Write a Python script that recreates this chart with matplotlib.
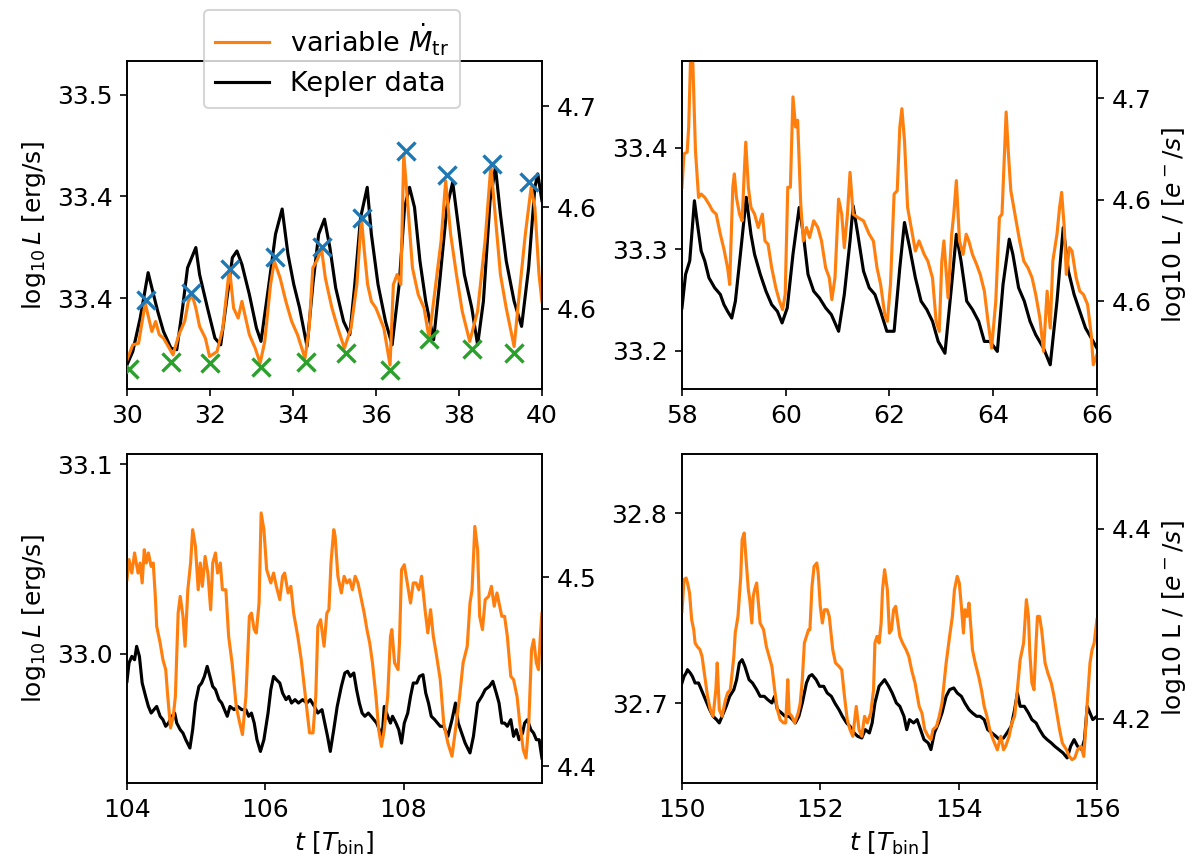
import numpy as np
import matplotlib
matplotlib.use('Agg')
from matplotlib import pyplot as plt
from matplotlib.ticker import FormatStrFormatter

plt.rcParams['font.size'] = 12

ORANGE = '#ff7f0e'

# model light curve (variable Mdot_tr), columns: t [T_bin], log10 L [erg/s]
tl_model = np.array([
    (30.00, 33.3196), (30.14, 33.3270), (30.28, 33.3278), (30.44, 33.3476), (30.60, 33.3336),
    (30.69, 33.3385), (30.78, 33.3320), (30.88, 33.3303), (31.02, 33.3254), (31.11, 33.3221),
    (31.25, 33.3320), (31.39, 33.3385), (31.48, 33.3484), (31.57, 33.3517), (31.66, 33.3451),
    (31.75, 33.3361), (31.89, 33.3303), (31.99, 33.3213), (32.17, 33.3237), (32.31, 33.3353),
    (32.47, 33.3649), (32.57, 33.3451), (32.68, 33.3402), (32.77, 33.3484), (32.86, 33.3402),
    (32.95, 33.3320), (33.09, 33.3254), (33.21, 33.3180), (33.32, 33.3287), (33.46, 33.3567),
    (33.55, 33.3682), (33.69, 33.3600), (33.83, 33.3484), (33.97, 33.3385), (34.11, 33.3320),
    (34.29, 33.3204), (34.39, 33.3353), (34.48, 33.3649), (34.57, 33.3682), (34.69, 33.3740),
    (34.78, 33.3600), (34.85, 33.3534), (34.94, 33.3451), (35.08, 33.3353), (35.24, 33.3254),
    (35.40, 33.3353), (35.54, 33.3567), (35.65, 33.3896), (35.72, 33.3731), (35.80, 33.3567),
    (35.89, 33.3484), (36.00, 33.3451), (36.19, 33.3353), (36.34, 33.3171), (36.42, 33.3567),
    (36.51, 33.3616), (36.60, 33.3567), (36.67, 33.4209), (36.76, 33.3979), (36.88, 33.3649),
    (37.02, 33.3517), (37.16, 33.3451), (37.28, 33.3303), (37.39, 33.3484), (37.57, 33.3781),
    (37.68, 33.4077), (37.80, 33.3814), (37.94, 33.3616), (38.08, 33.3435), (38.26, 33.3287),
    (38.45, 33.3435), (38.63, 33.3781), (38.77, 33.4152), (38.88, 33.3896), (39.00, 33.3616),
    (39.14, 33.3451), (39.33, 33.3262), (39.46, 33.3534), (39.60, 33.3814), (39.74, 33.4044),
    (39.83, 33.3946), (39.93, 33.3616), (40.00, 33.3484)])

# Kepler light curve, columns: t [T_bin], log10 L [e-/s]
tl_kepler = np.array([
    (30.00, 4.5473), (30.14, 4.5539), (30.32, 4.5705), (30.51, 4.5928), (30.60, 4.5853),
    (30.74, 4.5738), (30.88, 4.5638), (31.06, 4.5556), (31.20, 4.5548), (31.34, 4.5754),
    (31.46, 4.5952), (31.66, 4.6052), (31.75, 4.5919), (31.94, 4.5754), (32.12, 4.5605),
    (32.26, 4.5572), (32.40, 4.5787), (32.54, 4.6002), (32.65, 4.6035), (32.77, 4.5969),
    (32.95, 4.5820), (33.12, 4.5655), (33.23, 4.5589), (33.42, 4.5870), (33.58, 4.6118),
    (33.74, 4.6242), (33.88, 4.6019), (34.02, 4.5870), (34.16, 4.5754), (34.34, 4.5564),
    (34.48, 4.5870), (34.62, 4.6118), (34.76, 4.6192), (34.89, 4.6052), (35.03, 4.5853),
    (35.22, 4.5688), (35.37, 4.5622), (35.49, 4.5870), (35.63, 4.6200), (35.79, 4.6349),
    (35.89, 4.6118), (36.05, 4.5870), (36.23, 4.5688), (36.39, 4.5572), (36.56, 4.5870),
    (36.69, 4.6250), (36.81, 4.6349), (36.93, 4.6250), (37.06, 4.5986), (37.20, 4.5787),
    (37.39, 4.5597), (37.53, 4.5870), (37.71, 4.6250), (37.85, 4.6374), (37.99, 4.6151),
    (38.13, 4.5919), (38.31, 4.5754), (38.45, 4.5572), (38.59, 4.5787), (38.75, 4.6283),
    (38.88, 4.6448), (39.00, 4.6217), (39.14, 4.5986), (39.33, 4.5787), (39.51, 4.5663),
    (39.68, 4.5952), (39.83, 4.6349), (39.90, 4.6415), (40.00, 4.6283)])

# maxima and minima picked on the model curve
tl_peaks = np.array([
    (30.46, 33.3493), (31.54, 33.3526), (32.49, 33.3641), (33.57, 33.3702), (34.71, 33.3751),
    (35.66, 33.3896), (36.72, 33.4226), (37.71, 33.4107), (38.80, 33.4160), (39.70, 33.4072)])
tl_troughs = np.array([
    (30.05, 33.3150), (31.06, 33.3188), (32.01, 33.3183), (33.22, 33.3163), (34.31, 33.3185),
    (35.28, 33.3232), (36.35, 33.3147), (37.28, 33.3300), (38.31, 33.3249), (39.33, 33.3229)])

tr_model = np.array([
    (58.00, 33.3612), (58.04, 33.3942), (58.10, 33.3959), (58.13, 33.4207), (58.17, 33.4967),
    (58.21, 33.4835), (58.26, 33.3975), (58.32, 33.3512), (58.37, 33.3545), (58.44, 33.3512),
    (58.52, 33.3446), (58.59, 33.3380), (58.66, 33.3347), (58.74, 33.3149), (58.81, 33.3000),
    (58.88, 33.2818), (58.92, 33.2653), (58.98, 33.3612), (59.01, 33.3744), (59.05, 33.3512),
    (59.11, 33.3347), (59.16, 33.3281), (59.20, 33.3744), (59.23, 33.4058), (59.28, 33.3612),
    (59.33, 33.3413), (59.40, 33.3347), (59.47, 33.3215), (59.55, 33.3347), (59.60, 33.3083),
    (59.66, 33.3050), (59.73, 33.2818), (59.81, 33.2620), (59.88, 33.2488), (59.94, 33.2405),
    (59.99, 33.2554), (60.04, 33.3612), (60.09, 33.3612), (60.14, 33.4504), (60.19, 33.4207),
    (60.23, 33.4273), (60.29, 33.3446), (60.34, 33.3083), (60.40, 33.3215), (60.46, 33.3116),
    (60.54, 33.3281), (60.62, 33.3215), (60.69, 33.3083), (60.77, 33.2818), (60.84, 33.2719),
    (60.89, 33.2504), (60.95, 33.2719), (61.02, 33.3496), (61.08, 33.3347), (61.13, 33.3017),
    (61.19, 33.3347), (61.24, 33.3760), (61.30, 33.3347), (61.39, 33.3314), (61.50, 33.3281),
    (61.61, 33.3149), (61.69, 33.3083), (61.76, 33.2818), (61.83, 33.2653), (61.91, 33.2355),
    (61.96, 33.2289), (62.02, 33.2653), (62.09, 33.3545), (62.15, 33.3579), (62.20, 33.4207),
    (62.24, 33.4388), (62.29, 33.4074), (62.35, 33.3413), (62.42, 33.3215), (62.50, 33.2983),
    (62.57, 33.3083), (62.67, 33.2950), (62.74, 33.2884), (62.83, 33.2719), (62.90, 33.2289),
    (62.96, 33.2190), (63.01, 33.2884), (63.05, 33.3083), (63.13, 33.2521), (63.20, 33.3149),
    (63.24, 33.3347), (63.29, 33.3678), (63.35, 33.3083), (63.42, 33.2950), (63.48, 33.3149),
    (63.53, 33.3083), (63.60, 33.2950), (63.68, 33.2851), (63.75, 33.2752), (63.83, 33.2587),
    (63.90, 33.2289), (63.97, 33.2025), (64.05, 33.2488), (64.12, 33.3314), (64.17, 33.3347),
    (64.22, 33.3975), (64.25, 33.4355), (64.29, 33.3975), (64.34, 33.3579), (64.42, 33.3347),
    (64.51, 33.3083), (64.59, 33.2884), (64.67, 33.2818), (64.75, 33.2719), (64.82, 33.2554),
    (64.90, 33.2322), (64.97, 33.1992), (65.04, 33.2587), (65.10, 33.2223), (65.15, 33.2884),
    (65.23, 33.3149), (65.28, 33.3413), (65.32, 33.3562), (65.37, 33.3215), (65.41, 33.2752),
    (65.47, 33.3017), (65.52, 33.2983), (65.60, 33.2719), (65.67, 33.2587), (65.74, 33.2554),
    (65.82, 33.2455), (65.89, 33.2157), (65.93, 33.1860), (66.00, 33.1959)])

tr_kepler = np.array([
    (58.00, 4.5718), (58.07, 4.5883), (58.15, 4.5949), (58.24, 4.6245), (58.29, 4.6146),
    (58.37, 4.5998), (58.44, 4.5949), (58.52, 4.5866), (58.63, 4.5817), (58.74, 4.5784),
    (58.81, 4.5734), (58.88, 4.5701), (58.96, 4.5668), (59.03, 4.5751), (59.14, 4.6014),
    (59.24, 4.6262), (59.33, 4.6080), (59.40, 4.5981), (59.51, 4.5883), (59.62, 4.5800),
    (59.73, 4.5734), (59.84, 4.5701), (59.93, 4.5644), (60.03, 4.5718), (60.14, 4.5981),
    (60.26, 4.6212), (60.34, 4.6080), (60.43, 4.5883), (60.54, 4.5800), (60.65, 4.5767),
    (60.77, 4.5718), (60.88, 4.5685), (61.02, 4.5603), (61.13, 4.5784), (61.24, 4.6047),
    (61.30, 4.6220), (61.39, 4.6080), (61.50, 4.5899), (61.61, 4.5817), (61.72, 4.5784),
    (61.83, 4.5701), (61.95, 4.5603), (62.09, 4.5603), (62.20, 4.5916), (62.29, 4.6138),
    (62.39, 4.6014), (62.50, 4.5866), (62.61, 4.5751), (62.72, 4.5710), (62.83, 4.5652),
    (62.94, 4.5553), (63.07, 4.5495), (63.20, 4.5833), (63.29, 4.6080), (63.38, 4.5949),
    (63.49, 4.5751), (63.60, 4.5710), (63.72, 4.5652), (63.83, 4.5553), (63.94, 4.5553),
    (64.08, 4.5504), (64.19, 4.5833), (64.31, 4.6056), (64.38, 4.5981), (64.49, 4.5817),
    (64.60, 4.5751), (64.71, 4.5652), (64.82, 4.5586), (64.97, 4.5520), (65.10, 4.5438),
    (65.23, 4.5751), (65.35, 4.6113), (65.45, 4.5899), (65.56, 4.5784), (65.67, 4.5701),
    (65.78, 4.5619), (65.89, 4.5570), (66.00, 4.5520)])

bl_model = np.array([
    (104.00, 33.0390), (104.03, 33.0496), (104.07, 33.0425), (104.11, 33.0531), (104.16, 33.0425),
    (104.19, 33.0478), (104.22, 33.0373), (104.25, 33.0548), (104.28, 33.0478), (104.31, 33.0531),
    (104.35, 33.0460), (104.38, 33.0478), (104.41, 33.0302), (104.43, 33.0144), (104.48, 33.0056),
    (104.52, 32.9968), (104.56, 32.9916), (104.59, 32.9775), (104.63, 32.9608), (104.67, 32.9670),
    (104.70, 32.9775), (104.74, 33.0214), (104.77, 33.0302), (104.81, 33.0197), (104.84, 33.0039),
    (104.88, 33.0337), (104.92, 33.0478), (104.95, 33.0654), (104.99, 33.0566), (105.03, 33.0337),
    (105.06, 33.0478), (105.09, 33.0355), (105.13, 33.0513), (105.17, 33.0425), (105.21, 33.0232),
    (105.24, 33.0478), (105.28, 33.0531), (105.31, 33.0425), (105.35, 33.0478), (105.38, 33.0337),
    (105.43, 33.0337), (105.47, 33.0091), (105.52, 32.9951), (105.58, 32.9722), (105.62, 32.9652),
    (105.67, 32.9573), (105.72, 32.9775), (105.77, 33.0197), (105.80, 33.0214), (105.84, 33.0127),
    (105.87, 33.0109), (105.91, 33.0267), (105.94, 33.0742), (105.98, 33.0654), (106.02, 33.0443),
    (106.08, 33.0373), (106.12, 33.0425), (106.16, 33.0355), (106.21, 33.0285), (106.25, 33.0408),
    (106.28, 33.0425), (106.33, 33.0320), (106.37, 33.0355), (106.41, 33.0214), (106.47, 33.0091),
    (106.52, 32.9968), (106.58, 32.9775), (106.64, 32.9582), (106.69, 32.9582), (106.73, 32.9775),
    (106.76, 33.0144), (106.80, 33.0179), (106.85, 33.0039), (106.89, 33.0214), (106.92, 33.0232),
    (106.95, 33.0478), (106.99, 33.0654), (107.01, 33.0619), (107.05, 33.0408), (107.10, 33.0320),
    (107.14, 33.0408), (107.18, 33.0373), (107.22, 33.0390), (107.26, 33.0337), (107.30, 33.0408),
    (107.34, 33.0373), (107.39, 33.0285), (107.43, 33.0214), (107.47, 33.0127), (107.51, 33.0056),
    (107.55, 32.9951), (107.60, 32.9775), (107.64, 32.9599), (107.68, 32.9511), (107.72, 32.9599),
    (107.77, 32.9775), (107.81, 33.0091), (107.83, 33.0127), (107.87, 32.9951), (107.92, 32.9916),
    (107.94, 33.0056), (107.97, 33.0443), (108.01, 33.0469), (108.06, 33.0355), (108.10, 33.0267),
    (108.14, 33.0373), (108.18, 33.0373), (108.22, 33.0337), (108.26, 33.0408), (108.31, 33.0232),
    (108.35, 33.0109), (108.39, 33.0232), (108.43, 33.0091), (108.47, 33.0004), (108.53, 32.9863),
    (108.58, 32.9634), (108.64, 32.9529), (108.70, 32.9459), (108.75, 32.9599), (108.81, 32.9775),
    (108.86, 32.9951), (108.92, 33.0039), (108.96, 33.0267), (108.99, 33.0337), (109.03, 33.0671),
    (109.07, 33.0548), (109.10, 33.0197), (109.14, 33.0127), (109.18, 33.0285), (109.23, 33.0302),
    (109.27, 33.0355), (109.31, 33.0250), (109.35, 33.0320), (109.38, 33.0267), (109.42, 33.0197),
    (109.46, 33.0197), (109.50, 33.0091), (109.55, 32.9880), (109.59, 32.9863), (109.64, 32.9775),
    (109.68, 32.9634), (109.73, 32.9494), (109.77, 32.9450), (109.81, 32.9634), (109.85, 33.0021),
    (109.88, 33.0074), (109.92, 32.9951), (109.95, 32.9916), (109.98, 33.0109), (110.00, 33.0214)])

bl_kepler = np.array([
    (104.00, 4.4450), (104.03, 4.4547), (104.07, 4.4582), (104.11, 4.4564), (104.14, 4.4635),
    (104.18, 4.4582), (104.22, 4.4441), (104.27, 4.4370), (104.31, 4.4317), (104.35, 4.4282),
    (104.39, 4.4300), (104.43, 4.4317), (104.48, 4.4265), (104.52, 4.4247), (104.56, 4.4212),
    (104.60, 4.4229), (104.65, 4.4265), (104.69, 4.4282), (104.72, 4.4229), (104.77, 4.4194),
    (104.81, 4.4176), (104.85, 4.4141), (104.91, 4.4097), (104.95, 4.4194), (104.99, 4.4335),
    (105.04, 4.4423), (105.08, 4.4441), (105.12, 4.4476), (105.16, 4.4529), (105.20, 4.4476),
    (105.24, 4.4423), (105.28, 4.4406), (105.33, 4.4353), (105.37, 4.4335), (105.41, 4.4300),
    (105.45, 4.4265), (105.49, 4.4317), (105.55, 4.4300), (105.60, 4.4317), (105.66, 4.4300),
    (105.72, 4.4300), (105.76, 4.4265), (105.80, 4.4282), (105.84, 4.4229), (105.88, 4.4141),
    (105.93, 4.4079), (105.98, 4.4141), (106.04, 4.4282), (106.08, 4.4406), (106.12, 4.4476),
    (106.16, 4.4459), (106.21, 4.4441), (106.25, 4.4388), (106.30, 4.4353), (106.34, 4.4370),
    (106.38, 4.4335), (106.43, 4.4353), (106.48, 4.4335), (106.54, 4.4353), (106.60, 4.4335),
    (106.65, 4.4353), (106.71, 4.4317), (106.76, 4.4282), (106.82, 4.4300), (106.86, 4.4229),
    (106.90, 4.4159), (106.94, 4.4079), (106.99, 4.4194), (107.04, 4.4317), (107.10, 4.4423),
    (107.15, 4.4494), (107.19, 4.4503), (107.23, 4.4476), (107.28, 4.4494), (107.32, 4.4406),
    (107.36, 4.4335), (107.40, 4.4282), (107.44, 4.4265), (107.49, 4.4282), (107.53, 4.4265),
    (107.57, 4.4247), (107.61, 4.4229), (107.65, 4.4194), (107.69, 4.4159), (107.72, 4.4317),
    (107.77, 4.4265), (107.81, 4.4229), (107.84, 4.4265), (107.89, 4.4229), (107.93, 4.4194),
    (107.97, 4.4123), (108.01, 4.4229), (108.06, 4.4282), (108.10, 4.4370), (108.14, 4.4441),
    (108.19, 4.4441), (108.23, 4.4476), (108.28, 4.4485), (108.32, 4.4388), (108.36, 4.4335),
    (108.40, 4.4265), (108.45, 4.4247), (108.49, 4.4229), (108.53, 4.4212), (108.58, 4.4212),
    (108.64, 4.4159), (108.70, 4.4247), (108.75, 4.4335), (108.79, 4.4229), (108.84, 4.4176),
    (108.89, 4.4123), (108.96, 4.4071), (109.01, 4.4159), (109.07, 4.4335), (109.13, 4.4370),
    (109.18, 4.4406), (109.24, 4.4423), (109.29, 4.4450), (109.34, 4.4388), (109.38, 4.4335),
    (109.42, 4.4229), (109.46, 4.4229), (109.50, 4.4212), (109.55, 4.4247), (109.59, 4.4159),
    (109.63, 4.4194), (109.67, 4.4141), (109.72, 4.4176), (109.75, 4.4229), (109.79, 4.4247),
    (109.84, 4.4194), (109.88, 4.4176), (109.92, 4.4141), (109.96, 4.4141), (109.99, 4.4071),
    (110.00, 4.4044)])

br_model = np.array([
    (150.00, 32.7482), (150.03, 32.7649), (150.06, 32.7658), (150.08, 32.7632), (150.11, 32.7579),
    (150.14, 32.7439), (150.17, 32.7386), (150.19, 32.7316), (150.22, 32.7298), (150.26, 32.7281),
    (150.29, 32.7246), (150.33, 32.7140), (150.37, 32.7035), (150.41, 32.6965), (150.45, 32.6930),
    (150.49, 32.7070), (150.51, 32.7211), (150.54, 32.6965), (150.58, 32.6930), (150.63, 32.7018),
    (150.66, 32.7053), (150.70, 32.7070), (150.75, 32.7246), (150.77, 32.7368), (150.81, 32.7456),
    (150.85, 32.7667), (150.87, 32.7860), (150.90, 32.7895), (150.92, 32.7789), (150.96, 32.7596),
    (150.98, 32.7544), (151.01, 32.7421), (151.03, 32.7561), (151.05, 32.7596), (151.08, 32.7632),
    (151.11, 32.7509), (151.13, 32.7421), (151.18, 32.7386), (151.22, 32.7298), (151.26, 32.7246),
    (151.30, 32.7193), (151.34, 32.7070), (151.38, 32.6965), (151.42, 32.6912), (151.47, 32.6895),
    (151.50, 32.6895), (151.53, 32.7123), (151.55, 32.6947), (151.59, 32.6930), (151.63, 32.6895),
    (151.68, 32.6947), (151.71, 32.7000), (151.74, 32.7123), (151.77, 32.7316), (151.80, 32.7351),
    (151.83, 32.7386), (151.85, 32.7386), (151.88, 32.7614), (151.91, 32.7719), (151.95, 32.7737),
    (151.97, 32.7684), (152.00, 32.7509), (152.03, 32.7421), (152.06, 32.7491), (152.10, 32.7491),
    (152.13, 32.7456), (152.16, 32.7351), (152.18, 32.7281), (152.22, 32.7211), (152.27, 32.7193),
    (152.31, 32.7175), (152.35, 32.7035), (152.39, 32.6912), (152.43, 32.6860), (152.47, 32.6825),
    (152.52, 32.6982), (152.56, 32.6860), (152.60, 32.6825), (152.64, 32.6930), (152.68, 32.6895),
    (152.73, 32.6947), (152.77, 32.7070), (152.79, 32.7316), (152.82, 32.7351), (152.85, 32.7316),
    (152.88, 32.7421), (152.90, 32.7596), (152.93, 32.7702), (152.97, 32.7596), (153.00, 32.7368),
    (153.03, 32.7386), (153.06, 32.7491), (153.09, 32.7509), (153.11, 32.7456), (153.15, 32.7351),
    (153.19, 32.7316), (153.24, 32.7281), (153.28, 32.7246), (153.32, 32.7175), (153.37, 32.7105),
    (153.43, 32.6982), (153.47, 32.6947), (153.51, 32.6860), (153.56, 32.6825), (153.60, 32.6807),
    (153.63, 32.6860), (153.68, 32.6877), (153.72, 32.6930), (153.76, 32.7000), (153.82, 32.7211),
    (153.87, 32.7351), (153.91, 32.7456), (153.94, 32.7596), (153.98, 32.7667), (154.01, 32.7632),
    (154.04, 32.7509), (154.07, 32.7368), (154.09, 32.7491), (154.12, 32.7456), (154.15, 32.7526),
    (154.18, 32.7386), (154.20, 32.7281), (154.24, 32.7211), (154.29, 32.7140), (154.33, 32.7070),
    (154.37, 32.6982), (154.41, 32.6930), (154.45, 32.6860), (154.50, 32.6807), (154.54, 32.6772),
    (154.56, 32.6754), (154.61, 32.6825), (154.65, 32.6754), (154.68, 32.6772), (154.73, 32.6825),
    (154.77, 32.6895), (154.81, 32.6930), (154.85, 32.7070), (154.89, 32.7228), (154.94, 32.7316),
    (154.98, 32.7544), (155.01, 32.7456), (155.03, 32.7263), (155.06, 32.7105), (155.09, 32.7070),
    (155.12, 32.7316), (155.14, 32.7456), (155.17, 32.7456), (155.20, 32.7386), (155.23, 32.7281),
    (155.25, 32.7211), (155.29, 32.7158), (155.34, 32.7105), (155.38, 32.7035), (155.42, 32.6947),
    (155.46, 32.6860), (155.50, 32.6789), (155.56, 32.6754), (155.60, 32.6719), (155.64, 32.6702),
    (155.68, 32.6711), (155.72, 32.6754), (155.77, 32.6772), (155.81, 32.6719), (155.83, 32.6825),
    (155.86, 32.7000), (155.90, 32.7211), (155.93, 32.7281), (155.96, 32.7316), (156.00, 32.7439)])

br_kepler = np.array([
    (150.00, 4.2378), (150.03, 4.2448), (150.06, 4.2483), (150.08, 4.2518), (150.12, 4.2483),
    (150.15, 4.2448), (150.19, 4.2378), (150.24, 4.2378), (150.28, 4.2308), (150.32, 4.2238),
    (150.36, 4.2168), (150.40, 4.2098), (150.45, 4.2028), (150.50, 4.1993), (150.54, 4.1958),
    (150.58, 4.2028), (150.64, 4.2133), (150.69, 4.2238), (150.75, 4.2308), (150.79, 4.2413),
    (150.83, 4.2588), (150.87, 4.2623), (150.91, 4.2553), (150.97, 4.2413), (151.02, 4.2378),
    (151.08, 4.2308), (151.13, 4.2238), (151.19, 4.2238), (151.24, 4.2203), (151.30, 4.2168),
    (151.34, 4.2238), (151.38, 4.2098), (151.44, 4.2063), (151.49, 4.2028), (151.55, 4.2028),
    (151.60, 4.1993), (151.64, 4.1958), (151.69, 4.2028), (151.74, 4.2168), (151.80, 4.2378),
    (151.84, 4.2448), (151.88, 4.2466), (151.94, 4.2413), (151.99, 4.2343), (152.05, 4.2343),
    (152.10, 4.2273), (152.16, 4.2238), (152.21, 4.2168), (152.27, 4.2098), (152.32, 4.2028),
    (152.38, 4.1958), (152.43, 4.1923), (152.49, 4.1853), (152.54, 4.1818), (152.60, 4.1800),
    (152.65, 4.1888), (152.71, 4.1853), (152.75, 4.1958), (152.79, 4.2168), (152.85, 4.2343),
    (152.89, 4.2378), (152.93, 4.2413), (152.99, 4.2343), (153.04, 4.2273), (153.10, 4.2168),
    (153.15, 4.2133), (153.21, 4.2028), (153.25, 4.1888), (153.29, 4.1993), (153.35, 4.1958),
    (153.40, 4.1993), (153.45, 4.1888), (153.50, 4.1783), (153.56, 4.1748), (153.60, 4.1678),
    (153.65, 4.1853), (153.71, 4.1958), (153.76, 4.2063), (153.82, 4.2238), (153.87, 4.2308),
    (153.93, 4.2326), (153.98, 4.2273), (154.04, 4.2238), (154.09, 4.2168), (154.15, 4.2098),
    (154.20, 4.2063), (154.26, 4.2028), (154.31, 4.2028), (154.37, 4.1993), (154.42, 4.1888),
    (154.48, 4.1853), (154.54, 4.1818), (154.59, 4.1783), (154.65, 4.1800), (154.70, 4.1853),
    (154.76, 4.1923), (154.81, 4.2098), (154.85, 4.2273), (154.89, 4.2133), (154.95, 4.2133),
    (155.01, 4.2063), (155.06, 4.1993), (155.12, 4.1958), (155.17, 4.1888), (155.23, 4.1818),
    (155.28, 4.1783), (155.34, 4.1748), (155.39, 4.1713), (155.45, 4.1678), (155.51, 4.1643),
    (155.57, 4.1590), (155.62, 4.1713), (155.67, 4.1783), (155.72, 4.1713), (155.78, 4.1678),
    (155.82, 4.1783), (155.86, 4.2133), (155.90, 4.2063), (155.94, 4.1993), (156.00, 4.2028)])

# axis ranges and ticks for each panel
tl_xlim, tl_xticks = (30, 40), [30, 32, 34, 36, 38, 40]
tl_ylim, tl_yticks = (33.3053, 33.4666), [33.35, 33.40, 33.45]
tl_ylim2, tl_yticks2 = (4.5354, 4.6972), [4.575, 4.625, 4.675]

tr_xlim, tr_xticks = (58, 66), [58, 60, 62, 64, 66]
tr_ylim, tr_yticks = (33.1621, 33.4858), [33.2, 33.3, 33.4]
tr_ylim2, tr_yticks2 = (4.5319, 4.6932), [4.575, 4.625, 4.675]

bl_xlim, bl_xticks = (104, 110), [104, 106, 108]
bl_ylim, bl_yticks = (32.9318, 33.1053), [33.0, 33.1]
bl_ylim2, bl_yticks2 = (4.3912, 4.5653), [4.4, 4.5]

br_xlim, br_xticks = (150, 156), [150, 152, 154, 156]
br_ylim, br_yticks = (32.6579, 32.8311), [32.7, 32.8]
br_ylim2, br_yticks2 = (4.1327, 4.4785), [4.2, 4.4]


def draw_panel(rect, model, kepler, xlim, xticks, ylim, yticks, ylim2, yticks2,
               left_label=False, right_label=False, bottom_label=False):
    ax = fig.add_axes(rect)
    ax2 = ax.twinx()
    ax2.plot(kepler[:, 0], kepler[:, 1], color='k', lw=1.5, label='Kepler data')
    ax.plot(model[:, 0], model[:, 1], color=ORANGE, lw=1.5,
            label=r'variable $\dot{M}_{\rm tr}$')
    # model curve and markers on top of the Kepler curve
    ax.set_zorder(ax2.get_zorder() + 1)
    ax.patch.set_visible(False)

    ax.set_xlim(*xlim)
    ax.set_xticks(xticks)
    ax.set_ylim(*ylim)
    ax.set_yticks(yticks)
    ax.yaxis.set_major_formatter(FormatStrFormatter('%.1f'))
    ax2.set_ylim(*ylim2)
    ax2.set_yticks(yticks2)
    ax2.yaxis.set_major_formatter(FormatStrFormatter('%.1f'))

    if left_label:
        ax.set_ylabel(r'$\log_{10}L$ [erg/s]')
    if right_label:
        ax2.set_ylabel(r'log10 L / [$e^-/s$]')
    if bottom_label:
        ax.set_xlabel(r'$t$ [$T_{\rm bin}$]')
    return ax, ax2


fig = plt.figure(figsize=(8, 5.78), dpi=150)

ax, ax2 = draw_panel([0.1058, 0.5513, 0.3458, 0.3783], tl_model, tl_kepler,
                     tl_xlim, tl_xticks, tl_ylim, tl_yticks, tl_ylim2, tl_yticks2,
                     left_label=True)
ax.scatter(tl_peaks[:, 0], tl_peaks[:, 1], marker='x', color='C0', s=75, lw=1.6, zorder=5)
ax.scatter(tl_troughs[:, 0], tl_troughs[:, 1], marker='x', color='C2', s=75, lw=1.6, zorder=5)
h1, l1 = ax.get_legend_handles_labels()
h2, l2 = ax2.get_legend_handles_labels()
ax.legend(h1 + h2, l1 + l2, loc='upper center', bbox_to_anchor=(0.494, 1.197),
          fontsize=13)

draw_panel([0.5683, 0.5513, 0.3458, 0.3783], tr_model, tr_kepler,
           tr_xlim, tr_xticks, tr_ylim, tr_yticks, tr_ylim2, tr_yticks2,
           right_label=True)
draw_panel([0.1058, 0.0969, 0.3458, 0.3795], bl_model, bl_kepler,
           bl_xlim, bl_xticks, bl_ylim, bl_yticks, bl_ylim2, bl_yticks2,
           left_label=True, bottom_label=True)
draw_panel([0.5683, 0.0969, 0.3458, 0.3795], br_model, br_kepler,
           br_xlim, br_xticks, br_ylim, br_yticks, br_ylim2, br_yticks2,
           right_label=True, bottom_label=True)

fig.savefig('out.png', dpi=150)
